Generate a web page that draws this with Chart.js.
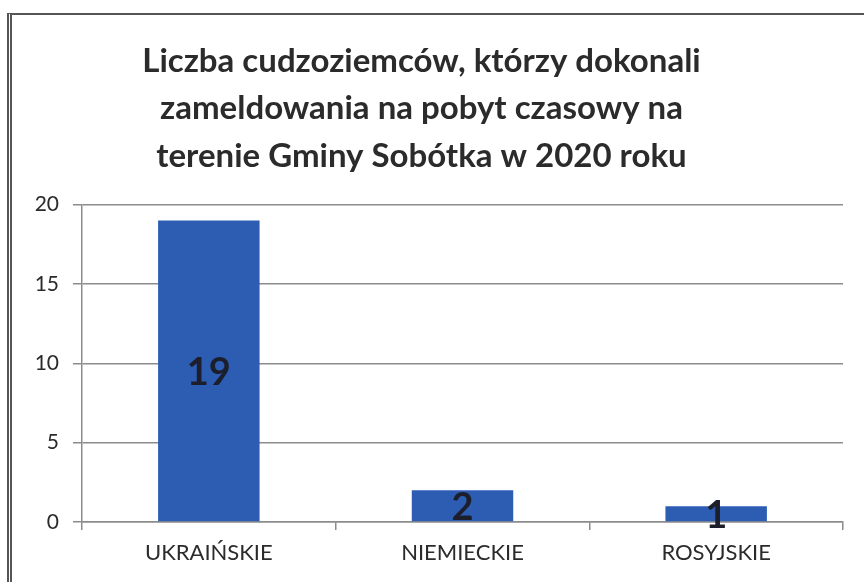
<!DOCTYPE html>
<html>
<head>
<meta charset="utf-8">
<script src="https://cdn.jsdelivr.net/npm/chart.js@4.4.1/dist/chart.umd.min.js"></script>
<style>
  html, body { margin: 0; padding: 0; background: #fff; }
  #wrap { position: relative; width: 864px; height: 582px; }
  #frame {
    position: absolute; left: 7px; top: 13px; right: -10px; bottom: -10px;
    border-left: 5px double #555; border-top: 2px solid #555;
  }
  canvas { position: absolute; left: 0; top: 0; }
</style>
</head>
<body>
<div id="wrap">
  <div id="frame"></div>
  <canvas id="chart" width="864" height="582"></canvas>
</div>
<script>
// Chart data
const categories = ['UKRAIŃSKIE', 'NIEMIECKIE', 'ROSYJSKIE'];
const counts = [19, 2, 1];
const titleLines = [
    'Liczba cudzoziemców, którzy dokonali',
    'zameldowania na pobyt czasowy na',
    'terenie Gminy Sobótka w 2020 roku'
];

const colors = {
    bar: '#2c5db3',
    grid: '#8c8c8c',
    text: '#2b2b2b',
    label: '#1c1f2b'
};

const fontFamily = 'Lato, "Open Sans", sans-serif';

// draws the value in the middle of each bar
const barValues = {
    id: 'barValues',
    afterDatasetsDraw(chart) {
        const ctx = chart.ctx;
        const meta = chart.getDatasetMeta(0);
        ctx.save();
        ctx.font = 'bold 38px ' + fontFamily;
        ctx.fillStyle = colors.label;
        ctx.textAlign = 'center';
        ctx.textBaseline = 'middle';
        meta.data.forEach((bar, i) => {
            const mid = (bar.y + bar.base) / 2;
            ctx.fillText(String(counts[i]), bar.x, mid + 2);
        });
        ctx.restore();
    }
};

new Chart(document.getElementById('chart'), {
    type: 'bar',
    data: {
        labels: categories,
        datasets: [{
            data: counts,
            backgroundColor: colors.bar,
            borderWidth: 0,
            barPercentage: 0.4,
            categoryPercentage: 1
        }]
    },
    options: {
        responsive: false,
        animation: false,
        layout: { padding: { top: 14, right: 21, bottom: 0, left: 0 } },
        plugins: {
            legend: { display: false },
            tooltip: { enabled: false },
            title: {
                display: true,
                text: titleLines,
                color: colors.text,
                font: { family: fontFamily, size: 33, weight: 'bold', lineHeight: 1.43 },
                padding: { top: 24, bottom: 25 }
            }
        },
        scales: {
            x: {
                grid: { drawOnChartArea: false, drawTicks: true, tickLength: 8, color: colors.grid, lineWidth: 1.5 },
                border: { color: colors.grid, width: 1.5 },
                ticks: { color: colors.text, font: { family: fontFamily, size: 22 }, padding: 10 },
                afterFit(scale) { scale.height = 60; }
            },
            y: {
                min: 0,
                max: 20,
                ticks: { stepSize: 5, color: colors.text, font: { family: fontFamily, size: 21 }, padding: 14 },
                grid: { color: colors.grid, lineWidth: 1.5, tickLength: 9 },
                border: { color: colors.grid, width: 1.5 },
                afterFit(scale) { scale.width = 82; }
            }
        }
    },
    plugins: [barValues]
});
</script>
</body>
</html>
